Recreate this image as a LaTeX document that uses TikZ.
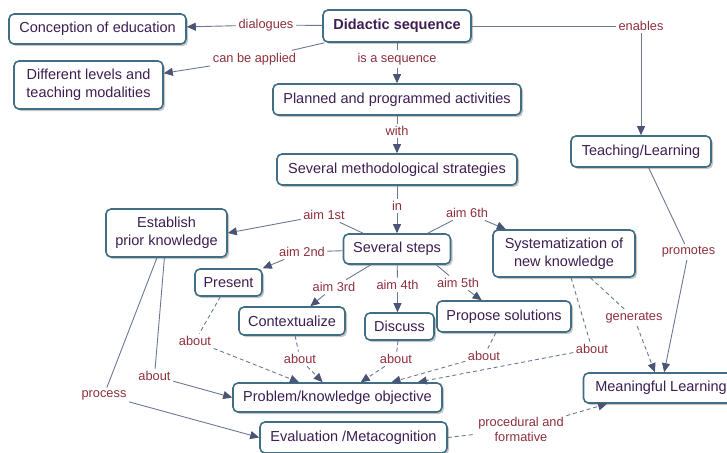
\documentclass[tikz,border=0pt]{standalone}
\usepackage{fontspec}
\setmainfont{Liberation Sans}
\usetikzlibrary{arrows.meta,shadows}

\definecolor{boxline}{HTML}{3F6E85}
\definecolor{boxtext}{HTML}{3D1E52}
\definecolor{labtext}{HTML}{8E2F3C}
\definecolor{linkc}{HTML}{6B7894}
\definecolor{tipc}{HTML}{4A5575}

\tikzset{
  concept/.style={draw=boxline, line width=1.6pt, rounded corners=5pt, fill=white,
    text=boxtext, font=\fontsize{14.5}{18}\selectfont, align=center, inner sep=2pt,
    drop shadow={shadow xshift=2pt, shadow yshift=-2pt, fill=black, opacity=0.22}},
  linkword/.style={text=labtext, font=\fontsize{12.8}{15}\selectfont, align=center, inner sep=2.5pt},
  link/.style={draw=linkc, line width=0.9pt},
  arrowlink/.style={link, -{Triangle[length=9pt,width=8pt,color=tipc]}},
  dashlink/.style={link, dash pattern=on 4pt off 3pt},
  dasharrow/.style={arrowlink, dash pattern=on 4pt off 3pt},
}

\begin{document}
\begin{tikzpicture}[x=1pt,y=-1pt]
\useasboundingbox (0,0) rectangle (727,452);

% concepts
\node[concept, minimum width=177pt, minimum height=30pt] (conc) at (97.5,29) {Conception of education};
\node[concept, minimum width=148pt, minimum height=32pt, font=\fontsize{14.5}{18}\selectfont\bfseries] (didac) at (397,26) {Didactic sequence};
\node[concept, minimum width=149pt, minimum height=48pt] (levels) at (88.5,85) {Different levels and\\teaching modalities};
\node[concept, minimum width=248pt, minimum height=31pt] (planned) at (397,99.5) {Planned and programmed activities};
\node[concept, minimum width=240pt, minimum height=31pt] (strat) at (397,169.5) {Several methodological strategies};
\node[concept, minimum width=140pt, minimum height=31pt] (tl) at (641,151.5) {Teaching/Learning};
\node[concept, minimum width=121pt, minimum height=48pt] (estab) at (166.5,233) {Establish\\prior knowledge};
\node[concept, minimum width=107pt, minimum height=30pt] (steps) at (397,249) {Several steps};
\node[concept, minimum width=142pt, minimum height=47pt] (syst) at (564,253.5) {Systematization of\\new knowledge};
\node[concept, minimum width=67pt, minimum height=27pt] (present) at (228.5,282.5) {Present};
\node[concept, minimum width=106pt, minimum height=28pt] (context) at (292,321) {Contextualize};
\node[concept, minimum width=69pt, minimum height=27pt] (discuss) at (399.5,326.5) {Discuss};
\node[concept, minimum width=134pt, minimum height=31pt] (propose) at (504,316.5) {Propose solutions};
\node[concept, minimum width=209pt, minimum height=29pt] (problem) at (337.5,397.5) {Problem/knowledge objective};
\node[concept, minimum width=187pt, minimum height=31pt] (eval) at (353.5,437.5) {Evaluation /Metacognition};
\node[concept, minimum width=155pt, minimum height=30pt] (ml) at (661,388) {Meaningful Learning};

% linking words
\node[linkword] (ldial) at (266,25) {dialogues};
\node[linkword] (lcba) at (254.5,59) {can be applied};
\node[linkword] (lseq) at (397,59) {is a sequence};
\node[linkword] (len) at (641,26) {enables};
\node[linkword] (lwith) at (397,131) {with};
\node[linkword] (lin) at (397,206) {in};
\node[linkword] (la1) at (324,215) {aim 1st};
\node[linkword] (la6) at (467,213) {aim 6th};
\node[linkword] (la2) at (302,252) {aim 2nd};
\node[linkword] (la3) at (334,287) {aim 3rd};
\node[linkword] (la4) at (397.5,285) {aim 4th};
\node[linkword] (la5) at (458,283) {aim 5th};
\node[linkword] (lprom) at (688.5,252) {promotes};
\node[linkword] (lgen) at (634,318) {generates};
\node[linkword] (labS) at (592,349) {about};
\node[linkword] (labP) at (484,356) {about};
\node[linkword] (labD) at (396,359) {about};
\node[linkword] (labC) at (300,359) {about};
\node[linkword] (labPr) at (195,341) {about};
\node[linkword] (labE) at (154.5,376) {about};
\node[linkword] (lproc) at (104,395) {process};
\node[linkword] (lpf) at (521,429) {procedural and\\formative};

% propositions
\draw[link] (didac) -- (ldial);   \draw[arrowlink] (ldial) -- (conc);
\draw[link] (didac) -- (lcba);    \draw[arrowlink] (lcba) -- (levels);
\draw[link] (didac) -- (lseq);    \draw[arrowlink] (lseq) -- (planned);
\draw[link] (didac.east) -- (len.west); \draw[arrowlink] (len) -- (tl);
\draw[link] (planned) -- (lwith); \draw[arrowlink] (lwith) -- (strat);
\draw[link] (strat) -- (lin);     \draw[arrowlink] (lin) -- (steps);

\draw[link] (steps) -- (la1);     \draw[arrowlink] (la1) -- (estab.east);
\draw[link] (steps) -- (la6);     \draw[arrowlink] (la6) -- (syst);
\draw[link] (steps) -- (la2);     \draw[arrowlink] (la2) -- (present);
\draw[link] (steps) -- (la3);     \draw[arrowlink] (la3) -- (context);
\draw[link] (steps) -- (la4);     \draw[arrowlink] (la4) -- (la4 |- discuss.north);
\draw[link] (steps.-22) -- (la5); \draw[arrowlink] (la5) -- (propose);

\draw[link] (tl) -- (lprom);      \draw[arrowlink] (lprom) -- (ml);
\draw[dashlink] (syst) -- (lgen); \draw[dasharrow] (lgen) -- (ml);
\draw[dashlink] (syst) -- (labS); \draw[dasharrow] (labS) -- (problem);

\draw[dashlink] (propose) -- (labP); \draw[dasharrow] (labP) -- (problem);
\draw[dashlink] (discuss) -- (labD); \draw[dasharrow] (labD) -- (problem);
\draw[dashlink] (context) -- (labC); \draw[dasharrow] (labC) -- (problem);
\draw[dashlink] (present) -- (labPr); \draw[dasharrow] (labPr) -- (problem);

\draw[link] (estab) -- (labE);    \draw[arrowlink] (labE) -- (problem.west);
\draw[link] (estab) -- (lproc);   \draw[arrowlink] (lproc) -- (eval.west);
\draw[dashlink] (eval.east) -- (lpf); \draw[dasharrow] (lpf) -- (ml);
\end{tikzpicture}
\end{document}
